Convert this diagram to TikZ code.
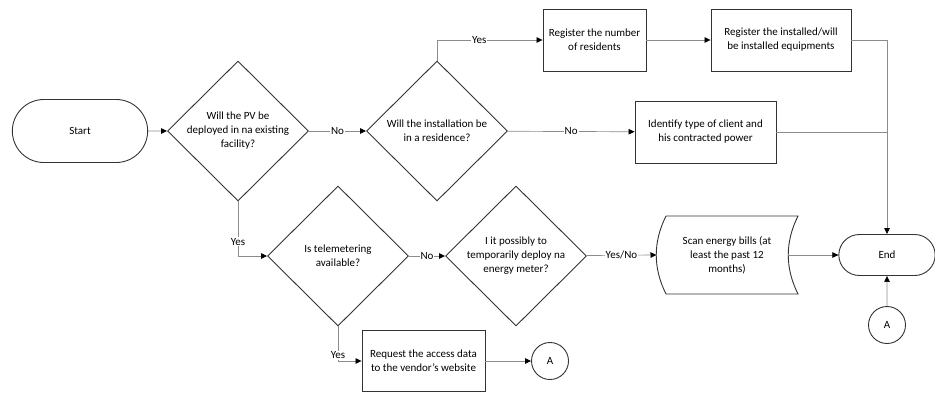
\documentclass[tikz,border=0pt]{standalone}
\usepackage{fontspec}
\setmainfont{Carlito}
\usetikzlibrary{shapes.geometric,shapes.misc,arrows.meta}

\begin{document}
\begin{tikzpicture}[x=1pt, y=-1pt,
    every node/.style={font=\fontsize{11pt}{14pt}\selectfont, align=center},
    box/.style={draw=black!80, line width=0.9pt, rectangle, inner sep=2pt},
    term/.style={draw=black!80, line width=0.9pt, rounded rectangle},
    decision/.style={draw=black!80, line width=0.9pt, diamond, inner sep=-15pt, minimum width=141pt, minimum height=140pt},
    conn/.style={draw=black!80, line width=0.9pt, circle, minimum size=37pt, inner sep=0pt},
    flow/.style={draw=black!45, line width=0.7pt, -{Triangle[length=6pt,width=5.5pt,fill=black,color=black]}},
    lab/.style={fill=white, inner sep=1pt}]
    \useasboundingbox (0,0) rectangle (935,392);

    % Terminaux
    \node[term, minimum width=142pt, minimum height=63pt] (start) at (80,131) {Start};
    \node[term, minimum width=103pt, minimum height=41pt] (end) at (887,255) {End};

    % Decisions
    \node[decision] (pv) at (238,131) {Will the PV be\\deployed in na existing\\facility?};
    \node[decision] (resid) at (437,131) {Will the installation be\\in a residence?};
    \node[decision] (tele) at (338,256) {Is telemetering\\available?};
    \node[decision] (meter) at (516,256) {I it possibly to\\temporarily deploy na\\energy meter?};

    % Processus
    \node[box, minimum width=103pt, minimum height=62pt] (nres) at (594.5,40) {Register the number\\of residents};
    \node[box, minimum width=140pt, minimum height=62pt] (equip) at (781,40) {Register the installed/will\\be installed equipments};
    \node[box, minimum width=141pt, minimum height=62pt] (client) at (705.5,132) {Identify type of client and\\his contracted power};
    \node[box, minimum width=123pt, minimum height=61pt] (vendor) at (423.5,361) {Request the access data\\to the vendor's website};

    % Donnees stockees
    \node (bills) at (727,255) {Scan energy bills (at\\least the past 12\\months)};
    \draw[black!80, line width=0.9pt] (666,216) -- (798,216)
        .. controls (785,242) and (785,268) .. (798,294) -- (666,294)
        .. controls (653,268) and (653,242) .. (666,216);
    \coordinate (billsin) at (656.5,255);
    \coordinate (billsout) at (788.5,255);

    % Connecteurs
    \node[conn] (a1) at (550,361) {A};
    \node[conn] (a2) at (887,325) {A};

    % Fleches
    \draw[flow] (start) -- (pv);
    \draw[flow] (pv) -- node[lab] {No} (resid);
    \draw[flow] (resid.north) |- node[lab, pos=0.7] {Yes} (nres);
    \draw[flow] (nres) -- (equip);
    \draw[flow] (equip.east) -| (end.north);
    \draw[draw=black!45, line width=0.7pt] (client.east) -- (client.east -| end.north);
    \draw[flow] (resid) -- node[lab] {No} (client);
    \draw[flow] (pv.south) |- node[lab, pos=0.37] {Yes} (tele);
    \draw[flow] (tele) -- node[lab] {No} (meter);
    \draw[flow] (meter) -- node[lab] {Yes/No} (billsin);
    \draw[flow] (billsout) -- (end);
    \draw[flow] (tele.south) |- node[lab, pos=0.42] {Yes} (vendor);
    \draw[flow] (vendor) -- (a1);
    \draw[flow] (a2) -- (end);

\end{tikzpicture}
\end{document}
